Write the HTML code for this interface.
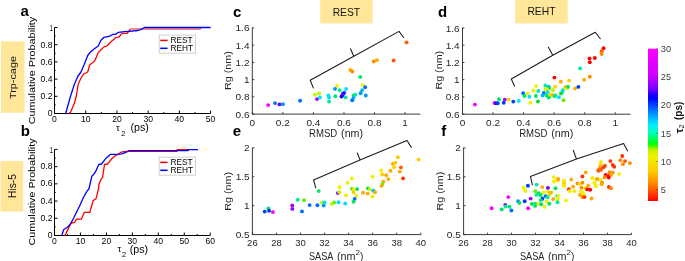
<!DOCTYPE html>
<html><head><meta charset="utf-8"><style>
html,body{margin:0;padding:0;background:#fff;}
svg{display:block;will-change:transform;}
text{font-family:"Liberation Sans", sans-serif;}
</style></head><body>
<svg width="685" height="261" viewBox="0 0 685 261">
<rect x="0" y="0" width="685" height="261" fill="#fff"/>
<rect x="1" y="41.3" width="23.5" height="71.5" fill="#FFE699"/>
<rect x="0.5" y="161" width="22.7" height="50.6" fill="#FFE699"/>
<rect x="320.2" y="0" width="52.3" height="23.4" fill="#FFE699"/>
<rect x="515.2" y="0" width="52.5" height="23.4" fill="#FFE699"/>
<text x="346.4" y="15.5" font-size="10.3" fill="#111" text-anchor="middle">REST</text>
<text x="541.45" y="15.3" font-size="10.3" fill="#111" text-anchor="middle">REHT</text>
<text transform="translate(15.9,77.55) rotate(-90)" font-size="9.8" fill="#111" text-anchor="middle" textLength="43" lengthAdjust="spacingAndGlyphs">Trp-cage</text>
<text transform="translate(15.7,186) rotate(-90)" font-size="10.0" fill="#111" text-anchor="middle" textLength="24" lengthAdjust="spacingAndGlyphs">His-5</text>
<text x="20.4" y="15.8" font-size="15" fill="#000" font-weight="bold">a</text>
<text x="20.8" y="136" font-size="15" fill="#000" font-weight="bold">b</text>
<text x="233" y="16.6" font-size="15" fill="#000" font-weight="bold">c</text>
<text x="438" y="16.5" font-size="15" fill="#000" font-weight="bold">d</text>
<text x="232.8" y="136" font-size="15" fill="#000" font-weight="bold">e</text>
<text x="441.2" y="135.7" font-size="15" fill="#000" font-weight="bold">f</text>
<g stroke="#000" stroke-width="1" fill="none">
<path d="M54.5,27.5 V113.5 H210.6"/>
<path d="M54.50,113.5 v-3"/>
<path d="M70.11,113.5 v-1.5"/>
<path d="M85.72,113.5 v-3"/>
<path d="M101.33,113.5 v-1.5"/>
<path d="M116.94,113.5 v-3"/>
<path d="M132.55,113.5 v-1.5"/>
<path d="M148.16,113.5 v-3"/>
<path d="M163.77,113.5 v-1.5"/>
<path d="M179.38,113.5 v-3"/>
<path d="M194.99,113.5 v-1.5"/>
<path d="M210.60,113.5 v-3"/>
<path d="M54.5,113.50 h3"/>
<path d="M54.5,104.90 h1.2"/>
<path d="M54.5,96.30 h3"/>
<path d="M54.5,87.70 h1.2"/>
<path d="M54.5,79.10 h3"/>
<path d="M54.5,70.50 h1.2"/>
<path d="M54.5,61.90 h3"/>
<path d="M54.5,53.30 h1.2"/>
<path d="M54.5,44.70 h3"/>
<path d="M54.5,36.10 h1.2"/>
<path d="M54.5,27.50 h3"/>
</g>
<text x="54.50" y="122.30" font-size="8.6" fill="#000" text-anchor="middle">0</text>
<text x="85.72" y="122.30" font-size="8.6" fill="#000" text-anchor="middle">10</text>
<text x="116.94" y="122.30" font-size="8.6" fill="#000" text-anchor="middle">20</text>
<text x="148.16" y="122.30" font-size="8.6" fill="#000" text-anchor="middle">30</text>
<text x="179.38" y="122.30" font-size="8.6" fill="#000" text-anchor="middle">40</text>
<text x="210.60" y="122.30" font-size="8.6" fill="#000" text-anchor="middle">50</text>
<text x="52.50" y="116.40" font-size="8.6" fill="#000" text-anchor="end">0</text>
<text x="52.50" y="99.20" font-size="8.6" fill="#000" text-anchor="end">0.2</text>
<text x="52.50" y="82.00" font-size="8.6" fill="#000" text-anchor="end">0.4</text>
<text x="52.50" y="64.80" font-size="8.6" fill="#000" text-anchor="end">0.6</text>
<text x="52.50" y="47.60" font-size="8.6" fill="#000" text-anchor="end">0.8</text>
<text x="52.90" y="31.00" font-size="8.6" fill="#000" text-anchor="end" textLength="3.2" lengthAdjust="spacingAndGlyphs">1</text>
<polyline points="68.6,113.5 70.2,112.9 74.4,103.3 76.5,95.0 78.2,84.2 81.0,78.0 84.0,73.6 86.0,73.0 87.7,72.0 89.6,65.1 94.4,61.3 96.3,57.4 98.2,52.6 101.0,49.8 104.0,46.9 106.8,46.0 111.6,41.2 115.7,37.7 118.6,37.2 122.0,33.4 127.2,33.4 130.6,29.0" fill="none" stroke="#ff0000" stroke-width="1.3" stroke-linejoin="round"/>
<polyline points="130.6,29.0 200,29.0 200.7,27.6" fill="none" stroke="#ef6a62" stroke-width="1.7" stroke-linejoin="round"/>
<polyline points="65.7,113.5 70.0,98.0 74.4,84.2 78.0,76.0 81.0,72.0 84.0,65.0 87.7,55.5 90.5,52.0 94.4,48.8 98.2,46.0 101.0,40.2 104.0,37.3 109.7,36.2 112.9,34.4 115.3,34.4 118.6,32.3 124.4,31.7 129.2,31.3 137.8,30.5 140.7,29.6 144.5,27.5 210.6,27.5" fill="none" stroke="#0000ff" stroke-width="1.3" stroke-linejoin="round"/>
<rect x="159.2" y="35.1" width="36.4" height="18.1" fill="#fff" stroke="#cccccc" stroke-width="0.9"/>
<path d="M160.2,40.4 h7.4" stroke="#ff0000" stroke-width="1.5"/>
<path d="M160.2,48.3 h7.4" stroke="#0000ff" stroke-width="1.5"/>
<text x="170.4" y="43.2" font-size="8.3" fill="#000">REST</text>
<text x="170.4" y="51.1" font-size="8.3" fill="#000">REHT</text>
<g stroke="#000" stroke-width="1" fill="none">
<path d="M54.5,149.4 V235.5 H210.20000000000002"/>
<path d="M54.50,235.5 v-3"/>
<path d="M67.47,235.5 v-1.5"/>
<path d="M80.45,235.5 v-3"/>
<path d="M93.43,235.5 v-1.5"/>
<path d="M106.40,235.5 v-3"/>
<path d="M119.38,235.5 v-1.5"/>
<path d="M132.35,235.5 v-3"/>
<path d="M145.32,235.5 v-1.5"/>
<path d="M158.30,235.5 v-3"/>
<path d="M171.28,235.5 v-1.5"/>
<path d="M184.25,235.5 v-3"/>
<path d="M197.23,235.5 v-1.5"/>
<path d="M210.20,235.5 v-3"/>
<path d="M54.5,235.50 h3"/>
<path d="M54.5,226.89 h1.2"/>
<path d="M54.5,218.28 h3"/>
<path d="M54.5,209.67 h1.2"/>
<path d="M54.5,201.06 h3"/>
<path d="M54.5,192.45 h1.2"/>
<path d="M54.5,183.84 h3"/>
<path d="M54.5,175.23 h1.2"/>
<path d="M54.5,166.62 h3"/>
<path d="M54.5,158.01 h1.2"/>
<path d="M54.5,149.40 h3"/>
</g>
<text x="54.50" y="244.10" font-size="8.6" fill="#000" text-anchor="middle">0</text>
<text x="80.45" y="244.10" font-size="8.6" fill="#000" text-anchor="middle">10</text>
<text x="106.40" y="244.10" font-size="8.6" fill="#000" text-anchor="middle">20</text>
<text x="132.35" y="244.10" font-size="8.6" fill="#000" text-anchor="middle">30</text>
<text x="158.30" y="244.10" font-size="8.6" fill="#000" text-anchor="middle">40</text>
<text x="184.25" y="244.10" font-size="8.6" fill="#000" text-anchor="middle">50</text>
<text x="210.20" y="244.10" font-size="8.6" fill="#000" text-anchor="middle">60</text>
<text x="52.50" y="238.10" font-size="8.6" fill="#000" text-anchor="end">0</text>
<text x="52.50" y="220.88" font-size="8.6" fill="#000" text-anchor="end">0.2</text>
<text x="52.50" y="203.66" font-size="8.6" fill="#000" text-anchor="end">0.4</text>
<text x="52.50" y="186.44" font-size="8.6" fill="#000" text-anchor="end">0.6</text>
<text x="52.50" y="169.22" font-size="8.6" fill="#000" text-anchor="end">0.8</text>
<text x="52.90" y="152.60" font-size="8.6" fill="#000" text-anchor="end" textLength="3.2" lengthAdjust="spacingAndGlyphs">1</text>
<polyline points="64.8,235.5 65.6,234.3 67.7,229.9 70.6,224.0 72.6,222.7 74.5,222.5 76.5,219.2 81.4,219.2 84.3,212.3 89.8,212.3 92.1,204.5 93.1,200.6 96.0,198.7 97.0,194.8 98.9,187.0 98.7,185.0 100.6,180.2 102.6,177.2 104.5,164.5 107.5,164.0 109.4,161.6 112.3,158.3 115.3,155.7 118.2,154.4 120.2,152.8 122.1,151.8 126.0,151.3 176.9,151.3 177.2,149.7 188.5,149.7" fill="none" stroke="#ff0000" stroke-width="1.3" stroke-linejoin="round"/>
<polyline points="61.8,235.5 63.8,229.5 67.7,227.0 69.6,225.0 72.6,220.2 76.5,212.3 79.4,206.5 83.3,197.7 87.2,190.9 88.9,189.0 91.8,176.3 93.8,174.3 95.7,171.4 98.7,164.5 101.6,164.0 104.5,160.2 106.5,157.7 110.4,154.4 116.3,154.4 122.1,153.8 127.0,151.8 129.0,150.7 188.2,150.7 188.5,149.6 198.0,149.6" fill="none" stroke="#0000ff" stroke-width="1.3" stroke-linejoin="round"/>
<rect x="159.2" y="157.1" width="36.4" height="18.1" fill="#fff" stroke="#cccccc" stroke-width="0.9"/>
<path d="M160.2,162.4 h7.4" stroke="#ff0000" stroke-width="1.5"/>
<path d="M160.2,170.29999999999998 h7.4" stroke="#0000ff" stroke-width="1.5"/>
<text x="170.4" y="165.2" font-size="8.3" fill="#000">REST</text>
<text x="170.4" y="173.1" font-size="8.3" fill="#000">REHT</text>
<text transform="translate(34.7,70.55) rotate(-90)" font-size="9.6" fill="#000" text-anchor="middle" textLength="107.6" lengthAdjust="spacingAndGlyphs">Cumulative Probability</text>
<text transform="translate(34.9,191.9) rotate(-90)" font-size="9.6" fill="#000" text-anchor="middle" textLength="107.0" lengthAdjust="spacingAndGlyphs">Cumulative Probability</text>
<text x="116.0" y="131.0" font-size="9.6" fill="#000" font-family=""Liberation Serif", serif">τ</text>
<text x="121.2" y="135.6" font-size="7.4" fill="#000">2</text>
<text x="130.5" y="131.4" font-size="10.3" fill="#000" textLength="18.4" lengthAdjust="spacingAndGlyphs">(ps)</text>
<text x="117.4" y="252.0" font-size="9.6" fill="#000" font-family=""Liberation Serif", serif">τ</text>
<text x="121.9" y="256.6" font-size="7.4" fill="#000">2</text>
<text x="129.7" y="252.8" font-size="10.3" fill="#000" textLength="18.4" lengthAdjust="spacingAndGlyphs">(ps)</text>
<g stroke="#262626" stroke-width="0.9" fill="none">
<path d="M252.30,27.50 V114.10 H420.38"/>
<path d="M252.30,114.10 v-1.9"/>
<path d="M282.86,114.10 v-1.9"/>
<path d="M313.42,114.10 v-1.9"/>
<path d="M343.98,114.10 v-1.9"/>
<path d="M374.54,114.10 v-1.9"/>
<path d="M405.10,114.10 v-1.9"/>
<path d="M252.30,114.10 h1.9"/>
<path d="M252.30,96.86 h1.9"/>
<path d="M252.30,79.62 h1.9"/>
<path d="M252.30,62.38 h1.9"/>
<path d="M252.30,45.14 h1.9"/>
<path d="M252.30,27.90 h1.9"/>
</g>
<text x="252.30" y="125.50" font-size="9.2" fill="#262626" text-anchor="middle" textLength="5.58" lengthAdjust="spacingAndGlyphs">0</text>
<text x="282.86" y="125.50" font-size="9.2" fill="#262626" text-anchor="middle" textLength="13.94" lengthAdjust="spacingAndGlyphs">0.2</text>
<text x="313.42" y="125.50" font-size="9.2" fill="#262626" text-anchor="middle" textLength="13.94" lengthAdjust="spacingAndGlyphs">0.4</text>
<text x="343.98" y="125.50" font-size="9.2" fill="#262626" text-anchor="middle" textLength="13.94" lengthAdjust="spacingAndGlyphs">0.6</text>
<text x="374.54" y="125.50" font-size="9.2" fill="#262626" text-anchor="middle" textLength="13.94" lengthAdjust="spacingAndGlyphs">0.8</text>
<text x="405.10" y="125.50" font-size="9.2" fill="#262626" text-anchor="middle" textLength="5.58" lengthAdjust="spacingAndGlyphs">1</text>
<text x="249.50" y="117.60" font-size="9.2" fill="#262626" text-anchor="end" textLength="13.94" lengthAdjust="spacingAndGlyphs">0.6</text>
<text x="249.50" y="100.36" font-size="9.2" fill="#262626" text-anchor="end" textLength="13.94" lengthAdjust="spacingAndGlyphs">0.8</text>
<text x="249.50" y="83.12" font-size="9.2" fill="#262626" text-anchor="end" textLength="5.58" lengthAdjust="spacingAndGlyphs">1</text>
<text x="249.50" y="65.88" font-size="9.2" fill="#262626" text-anchor="end" textLength="13.94" lengthAdjust="spacingAndGlyphs">1.2</text>
<text x="249.50" y="48.64" font-size="9.2" fill="#262626" text-anchor="end" textLength="13.94" lengthAdjust="spacingAndGlyphs">1.4</text>
<text x="249.50" y="31.40" font-size="9.2" fill="#262626" text-anchor="end" textLength="13.94" lengthAdjust="spacingAndGlyphs">1.6</text>
<text transform="translate(231.2,70.65) rotate(-90)" font-size="9.8" fill="#262626" text-anchor="middle" textLength="38.8" lengthAdjust="spacingAndGlyphs">Rg (nm)</text>
<text x="309.00" y="137.1" font-size="10.0" fill="#262626" textLength="28.2" lengthAdjust="spacingAndGlyphs">RMSD</text>
<text x="341.10" y="137.1" font-size="10.0" fill="#262626" textLength="22.0" lengthAdjust="spacingAndGlyphs">(nm)</text>
<g stroke="#262626" stroke-width="0.9" fill="none">
<path d="M462.50,27.60 V114.20 H630.47"/>
<path d="M462.50,114.20 v-1.9"/>
<path d="M493.04,114.20 v-1.9"/>
<path d="M523.58,114.20 v-1.9"/>
<path d="M554.12,114.20 v-1.9"/>
<path d="M584.66,114.20 v-1.9"/>
<path d="M615.20,114.20 v-1.9"/>
<path d="M462.50,114.20 h1.9"/>
<path d="M462.50,96.96 h1.9"/>
<path d="M462.50,79.72 h1.9"/>
<path d="M462.50,62.48 h1.9"/>
<path d="M462.50,45.24 h1.9"/>
<path d="M462.50,28.00 h1.9"/>
</g>
<text x="462.50" y="125.60" font-size="9.2" fill="#262626" text-anchor="middle" textLength="5.58" lengthAdjust="spacingAndGlyphs">0</text>
<text x="493.04" y="125.60" font-size="9.2" fill="#262626" text-anchor="middle" textLength="13.94" lengthAdjust="spacingAndGlyphs">0.2</text>
<text x="523.58" y="125.60" font-size="9.2" fill="#262626" text-anchor="middle" textLength="13.94" lengthAdjust="spacingAndGlyphs">0.4</text>
<text x="554.12" y="125.60" font-size="9.2" fill="#262626" text-anchor="middle" textLength="13.94" lengthAdjust="spacingAndGlyphs">0.6</text>
<text x="584.66" y="125.60" font-size="9.2" fill="#262626" text-anchor="middle" textLength="13.94" lengthAdjust="spacingAndGlyphs">0.8</text>
<text x="615.20" y="125.60" font-size="9.2" fill="#262626" text-anchor="middle" textLength="5.58" lengthAdjust="spacingAndGlyphs">1</text>
<text x="459.70" y="117.70" font-size="9.2" fill="#262626" text-anchor="end" textLength="13.94" lengthAdjust="spacingAndGlyphs">0.6</text>
<text x="459.70" y="100.46" font-size="9.2" fill="#262626" text-anchor="end" textLength="13.94" lengthAdjust="spacingAndGlyphs">0.8</text>
<text x="459.70" y="83.22" font-size="9.2" fill="#262626" text-anchor="end" textLength="5.58" lengthAdjust="spacingAndGlyphs">1</text>
<text x="459.70" y="65.98" font-size="9.2" fill="#262626" text-anchor="end" textLength="13.94" lengthAdjust="spacingAndGlyphs">1.2</text>
<text x="459.70" y="48.74" font-size="9.2" fill="#262626" text-anchor="end" textLength="13.94" lengthAdjust="spacingAndGlyphs">1.4</text>
<text x="459.70" y="31.50" font-size="9.2" fill="#262626" text-anchor="end" textLength="13.94" lengthAdjust="spacingAndGlyphs">1.6</text>
<text transform="translate(442.09999999999997,70.2) rotate(-90)" font-size="9.8" fill="#262626" text-anchor="middle" textLength="38.8" lengthAdjust="spacingAndGlyphs">Rg (nm)</text>
<text x="519.20" y="137.1" font-size="10.0" fill="#262626" textLength="28.2" lengthAdjust="spacingAndGlyphs">RMSD</text>
<text x="551.30" y="137.1" font-size="10.0" fill="#262626" textLength="22.0" lengthAdjust="spacingAndGlyphs">(nm)</text>
<g stroke="#262626" stroke-width="0.9" fill="none">
<path d="M252.40,147.50 V234.60 H420.82"/>
<path d="M252.40,234.60 v-1.9"/>
<path d="M276.46,234.60 v-1.9"/>
<path d="M300.52,234.60 v-1.9"/>
<path d="M324.58,234.60 v-1.9"/>
<path d="M348.64,234.60 v-1.9"/>
<path d="M372.70,234.60 v-1.9"/>
<path d="M396.76,234.60 v-1.9"/>
<path d="M420.82,234.60 v-1.9"/>
<path d="M252.40,234.60 h1.9"/>
<path d="M252.40,205.70 h1.9"/>
<path d="M252.40,176.80 h1.9"/>
<path d="M252.40,147.90 h1.9"/>
</g>
<text x="252.40" y="246.00" font-size="9.2" fill="#262626" text-anchor="middle" textLength="10.54" lengthAdjust="spacingAndGlyphs">26</text>
<text x="276.46" y="246.00" font-size="9.2" fill="#262626" text-anchor="middle" textLength="10.54" lengthAdjust="spacingAndGlyphs">28</text>
<text x="300.52" y="246.00" font-size="9.2" fill="#262626" text-anchor="middle" textLength="10.54" lengthAdjust="spacingAndGlyphs">30</text>
<text x="324.58" y="246.00" font-size="9.2" fill="#262626" text-anchor="middle" textLength="10.54" lengthAdjust="spacingAndGlyphs">32</text>
<text x="348.64" y="246.00" font-size="9.2" fill="#262626" text-anchor="middle" textLength="10.54" lengthAdjust="spacingAndGlyphs">34</text>
<text x="372.70" y="246.00" font-size="9.2" fill="#262626" text-anchor="middle" textLength="10.54" lengthAdjust="spacingAndGlyphs">36</text>
<text x="396.76" y="246.00" font-size="9.2" fill="#262626" text-anchor="middle" textLength="10.54" lengthAdjust="spacingAndGlyphs">38</text>
<text x="420.82" y="246.00" font-size="9.2" fill="#262626" text-anchor="middle" textLength="10.54" lengthAdjust="spacingAndGlyphs">40</text>
<text x="249.60" y="238.10" font-size="9.2" fill="#262626" text-anchor="end" textLength="13.94" lengthAdjust="spacingAndGlyphs">0.5</text>
<text x="249.60" y="209.20" font-size="9.2" fill="#262626" text-anchor="end" textLength="5.58" lengthAdjust="spacingAndGlyphs">1</text>
<text x="249.60" y="180.30" font-size="9.2" fill="#262626" text-anchor="end" textLength="13.94" lengthAdjust="spacingAndGlyphs">1.5</text>
<text x="249.60" y="151.40" font-size="9.2" fill="#262626" text-anchor="end" textLength="5.58" lengthAdjust="spacingAndGlyphs">2</text>
<text transform="translate(231.1,191.4) rotate(-90)" font-size="9.8" fill="#262626" text-anchor="middle" textLength="38.8" lengthAdjust="spacingAndGlyphs">Rg (nm)</text>
<text x="309.00" y="259.9" font-size="10.0" fill="#262626" textLength="24.4" lengthAdjust="spacingAndGlyphs">SASA</text>
<text x="336.90" y="259.9" font-size="10.0" fill="#262626" textLength="18.6" lengthAdjust="spacingAndGlyphs">(nm</text>
<text x="355.40" y="255.2" font-size="8.1" fill="#262626">2</text>
<text x="360.10" y="259.9" font-size="10.0" fill="#262626">)</text>
<g stroke="#262626" stroke-width="0.9" fill="none">
<path d="M463.60,147.50 V234.60 H631.46"/>
<path d="M463.60,234.60 v-1.9"/>
<path d="M487.58,234.60 v-1.9"/>
<path d="M511.56,234.60 v-1.9"/>
<path d="M535.54,234.60 v-1.9"/>
<path d="M559.52,234.60 v-1.9"/>
<path d="M583.50,234.60 v-1.9"/>
<path d="M607.48,234.60 v-1.9"/>
<path d="M631.46,234.60 v-1.9"/>
<path d="M463.60,234.60 h1.9"/>
<path d="M463.60,205.70 h1.9"/>
<path d="M463.60,176.80 h1.9"/>
<path d="M463.60,147.90 h1.9"/>
</g>
<text x="463.60" y="246.00" font-size="9.2" fill="#262626" text-anchor="middle" textLength="10.54" lengthAdjust="spacingAndGlyphs">26</text>
<text x="487.58" y="246.00" font-size="9.2" fill="#262626" text-anchor="middle" textLength="10.54" lengthAdjust="spacingAndGlyphs">28</text>
<text x="511.56" y="246.00" font-size="9.2" fill="#262626" text-anchor="middle" textLength="10.54" lengthAdjust="spacingAndGlyphs">30</text>
<text x="535.54" y="246.00" font-size="9.2" fill="#262626" text-anchor="middle" textLength="10.54" lengthAdjust="spacingAndGlyphs">32</text>
<text x="559.52" y="246.00" font-size="9.2" fill="#262626" text-anchor="middle" textLength="10.54" lengthAdjust="spacingAndGlyphs">34</text>
<text x="583.50" y="246.00" font-size="9.2" fill="#262626" text-anchor="middle" textLength="10.54" lengthAdjust="spacingAndGlyphs">36</text>
<text x="607.48" y="246.00" font-size="9.2" fill="#262626" text-anchor="middle" textLength="10.54" lengthAdjust="spacingAndGlyphs">38</text>
<text x="631.46" y="246.00" font-size="9.2" fill="#262626" text-anchor="middle" textLength="10.54" lengthAdjust="spacingAndGlyphs">40</text>
<text x="460.80" y="238.10" font-size="9.2" fill="#262626" text-anchor="end" textLength="13.94" lengthAdjust="spacingAndGlyphs">0.5</text>
<text x="460.80" y="209.20" font-size="9.2" fill="#262626" text-anchor="end" textLength="5.58" lengthAdjust="spacingAndGlyphs">1</text>
<text x="460.80" y="180.30" font-size="9.2" fill="#262626" text-anchor="end" textLength="13.94" lengthAdjust="spacingAndGlyphs">1.5</text>
<text x="460.80" y="151.40" font-size="9.2" fill="#262626" text-anchor="end" textLength="5.58" lengthAdjust="spacingAndGlyphs">2</text>
<text transform="translate(442.7,191.15) rotate(-90)" font-size="9.8" fill="#262626" text-anchor="middle" textLength="38.8" lengthAdjust="spacingAndGlyphs">Rg (nm)</text>
<text x="520.00" y="259.9" font-size="10.0" fill="#262626" textLength="24.4" lengthAdjust="spacingAndGlyphs">SASA</text>
<text x="547.90" y="259.9" font-size="10.0" fill="#262626" textLength="18.6" lengthAdjust="spacingAndGlyphs">(nm</text>
<text x="566.40" y="255.2" font-size="8.1" fill="#262626">2</text>
<text x="571.10" y="259.9" font-size="10.0" fill="#262626">)</text>
<path d="M313.3,87.9 L310.2,80.2 L353.8,56.2 M350.5,48.8 L353.8,56.2 L399,31.4 L403.6,37.5" fill="none" stroke="#1a1a1a" stroke-width="1.05" stroke-linejoin="round" stroke-linecap="round"/>
<path d="M514.6,86.2 L511.3,79 L552.8,55.2 M548.4,47.3 L552.8,55.2 L595.3,32.3 L600.3,38.8" fill="none" stroke="#1a1a1a" stroke-width="1.05" stroke-linejoin="round" stroke-linecap="round"/>
<path d="M315.7,187.8 L313.6,180 L360,159.9 M357.3,153 L360,159.9 L407,140.5 L411.4,147.4" fill="none" stroke="#1a1a1a" stroke-width="1.05" stroke-linejoin="round" stroke-linecap="round"/>
<path d="M532.4,184.8 L530.4,176.4 L576.5,159.1 M573.3,150.3 L576.5,159.1 L623.6,143.5 L627.6,150.9" fill="none" stroke="#1a1a1a" stroke-width="1.05" stroke-linejoin="round" stroke-linecap="round"/>
<circle cx="268.2" cy="105.1" r="1.95" fill="rgb(255,0,255)"/>
<circle cx="275" cy="103.1" r="1.95" fill="rgb(0,110,255)"/>
<circle cx="279.5" cy="104.4" r="1.95" fill="rgb(110,0,255)"/>
<circle cx="282.9" cy="104.2" r="1.95" fill="rgb(0,150,255)"/>
<circle cx="300.1" cy="100.7" r="1.95" fill="rgb(0,110,255)"/>
<circle cx="315.0" cy="94.8" r="1.95" fill="rgb(190,245,0)"/>
<circle cx="319.2" cy="93.4" r="1.95" fill="rgb(190,245,0)"/>
<circle cx="317" cy="99.1" r="1.95" fill="rgb(160,0,255)"/>
<circle cx="319.9" cy="97.5" r="1.95" fill="rgb(0,225,255)"/>
<circle cx="328.4" cy="95.5" r="1.95" fill="rgb(0,225,255)"/>
<circle cx="329.1" cy="97.4" r="1.95" fill="rgb(0,225,255)"/>
<circle cx="329" cy="101.5" r="1.95" fill="rgb(0,235,160)"/>
<circle cx="337" cy="85.7" r="1.95" fill="rgb(240,240,0)"/>
<circle cx="335" cy="88.9" r="1.95" fill="rgb(0,150,255)"/>
<circle cx="339.7" cy="90.2" r="1.95" fill="rgb(0,235,160)"/>
<circle cx="335.4" cy="96.3" r="1.95" fill="rgb(0,230,100)"/>
<circle cx="346.1" cy="88.9" r="1.95" fill="rgb(0,225,255)"/>
<circle cx="344.4" cy="92.7" r="1.95" fill="rgb(0,110,255)"/>
<circle cx="343.1" cy="93.8" r="1.95" fill="rgb(30,0,255)"/>
<circle cx="342.5" cy="95.1" r="1.95" fill="rgb(110,0,255)"/>
<circle cx="341.5" cy="96.5" r="1.95" fill="rgb(30,0,255)"/>
<circle cx="345.6" cy="97.5" r="1.95" fill="rgb(0,235,160)"/>
<circle cx="355.4" cy="94.6" r="1.95" fill="rgb(0,225,255)"/>
<circle cx="353.7" cy="95.5" r="1.95" fill="rgb(0,230,100)"/>
<circle cx="353.5" cy="97.7" r="1.95" fill="rgb(0,185,255)"/>
<circle cx="352.2" cy="100.2" r="1.95" fill="rgb(0,110,255)"/>
<circle cx="360.3" cy="77" r="1.95" fill="rgb(0,230,100)"/>
<circle cx="362.9" cy="85.1" r="1.95" fill="rgb(240,240,0)"/>
<circle cx="365.2" cy="87.3" r="1.95" fill="rgb(0,110,255)"/>
<circle cx="362.1" cy="90.2" r="1.95" fill="rgb(0,185,255)"/>
<circle cx="360.6" cy="93.2" r="1.95" fill="rgb(0,150,255)"/>
<circle cx="365.8" cy="95.5" r="1.95" fill="rgb(0,150,255)"/>
<circle cx="406.6" cy="42.4" r="1.95" fill="rgb(255,90,0)"/>
<circle cx="373.8" cy="61.4" r="1.95" fill="rgb(255,140,0)"/>
<circle cx="376.9" cy="60.2" r="1.95" fill="rgb(255,170,0)"/>
<circle cx="393.6" cy="60.5" r="1.95" fill="rgb(255,90,0)"/>
<circle cx="350.4" cy="69.9" r="1.95" fill="rgb(255,170,0)"/>
<circle cx="352.3" cy="71.5" r="1.95" fill="rgb(255,140,0)"/>
<circle cx="474.9" cy="104.6" r="1.95" fill="rgb(255,0,255)"/>
<circle cx="494.5" cy="103" r="1.95" fill="rgb(255,0,255)"/>
<circle cx="496.1" cy="103.2" r="1.95" fill="rgb(30,0,255)"/>
<circle cx="497.7" cy="103.2" r="1.95" fill="rgb(0,60,255)"/>
<circle cx="499" cy="99.2" r="1.95" fill="rgb(0,230,100)"/>
<circle cx="504.8" cy="99.6" r="1.95" fill="rgb(160,0,255)"/>
<circle cx="508.6" cy="99.6" r="1.95" fill="rgb(255,205,0)"/>
<circle cx="503.8" cy="102.7" r="1.95" fill="rgb(0,60,255)"/>
<circle cx="513.3" cy="101.6" r="1.95" fill="rgb(0,60,255)"/>
<circle cx="518.8" cy="100.9" r="1.95" fill="rgb(0,225,255)"/>
<circle cx="523.2" cy="93.2" r="1.95" fill="rgb(0,110,255)"/>
<circle cx="527.5" cy="93.8" r="1.95" fill="rgb(240,240,0)"/>
<circle cx="524.5" cy="96" r="1.95" fill="rgb(0,230,100)"/>
<circle cx="529.4" cy="96.7" r="1.95" fill="rgb(0,225,255)"/>
<circle cx="530.4" cy="102.8" r="1.95" fill="rgb(240,240,0)"/>
<circle cx="536.1" cy="86.1" r="1.95" fill="rgb(240,240,0)"/>
<circle cx="533.4" cy="90.5" r="1.95" fill="rgb(240,240,0)"/>
<circle cx="538.4" cy="91" r="1.95" fill="rgb(0,235,160)"/>
<circle cx="535.8" cy="96" r="1.95" fill="rgb(0,230,100)"/>
<circle cx="538" cy="101.4" r="1.95" fill="rgb(0,225,40)"/>
<circle cx="545.3" cy="85.5" r="1.95" fill="rgb(0,235,160)"/>
<circle cx="548.7" cy="86.6" r="1.95" fill="rgb(0,185,255)"/>
<circle cx="555.2" cy="86.8" r="1.95" fill="rgb(255,215,0)"/>
<circle cx="565.6" cy="87.2" r="1.95" fill="rgb(255,170,0)"/>
<circle cx="567.2" cy="88.2" r="1.95" fill="rgb(240,240,0)"/>
<circle cx="568" cy="86.8" r="1.95" fill="rgb(0,230,100)"/>
<circle cx="575" cy="88.4" r="1.95" fill="rgb(255,170,0)"/>
<circle cx="578.4" cy="86.9" r="1.95" fill="rgb(0,60,255)"/>
<circle cx="545.5" cy="89.3" r="1.95" fill="rgb(190,245,0)"/>
<circle cx="549.2" cy="88.0" r="1.95" fill="rgb(0,230,100)"/>
<circle cx="547.0" cy="89.8" r="1.95" fill="rgb(240,240,0)"/>
<circle cx="553" cy="90.3" r="1.95" fill="rgb(190,245,0)"/>
<circle cx="543.7" cy="93" r="1.95" fill="rgb(0,110,255)"/>
<circle cx="547.7" cy="92.2" r="1.95" fill="rgb(0,225,255)"/>
<circle cx="562.7" cy="90.3" r="1.95" fill="rgb(0,235,160)"/>
<circle cx="562.5" cy="91.9" r="1.95" fill="rgb(0,225,255)"/>
<circle cx="561" cy="93.5" r="1.95" fill="rgb(0,225,40)"/>
<circle cx="542.5" cy="95.5" r="1.95" fill="rgb(0,185,255)"/>
<circle cx="546.6" cy="95.4" r="1.95" fill="rgb(0,230,100)"/>
<circle cx="550" cy="94.6" r="1.95" fill="rgb(240,240,0)"/>
<circle cx="550.9" cy="95.4" r="1.95" fill="rgb(255,205,0)"/>
<circle cx="550.6" cy="96.0" r="1.95" fill="rgb(240,240,0)"/>
<circle cx="553" cy="95.2" r="1.95" fill="rgb(255,170,0)"/>
<circle cx="555.3" cy="95.5" r="1.95" fill="rgb(0,230,100)"/>
<circle cx="554.6" cy="96.2" r="1.95" fill="rgb(0,235,160)"/>
<circle cx="548.7" cy="97.5" r="1.95" fill="rgb(0,230,100)"/>
<circle cx="558.9" cy="97.3" r="1.95" fill="rgb(0,225,255)"/>
<circle cx="563.5" cy="100.3" r="1.95" fill="rgb(100,240,0)"/>
<circle cx="554.4" cy="77.6" r="1.95" fill="rgb(255,0,0)"/>
<circle cx="560.8" cy="81.7" r="1.95" fill="rgb(255,170,0)"/>
<circle cx="569.1" cy="80.6" r="1.95" fill="rgb(255,205,0)"/>
<circle cx="580.1" cy="68.4" r="1.95" fill="rgb(0,235,160)"/>
<circle cx="589.8" cy="76.7" r="1.95" fill="rgb(255,140,0)"/>
<circle cx="584.1" cy="79.8" r="1.95" fill="rgb(255,170,0)"/>
<circle cx="589.5" cy="58.4" r="1.95" fill="rgb(255,0,0)"/>
<circle cx="594.8" cy="58" r="1.95" fill="rgb(255,0,0)"/>
<circle cx="589.8" cy="62.3" r="1.95" fill="rgb(255,0,0)"/>
<circle cx="603.6" cy="48.3" r="1.95" fill="rgb(255,0,0)"/>
<circle cx="601.7" cy="51.3" r="1.95" fill="rgb(255,90,0)"/>
<circle cx="601.7" cy="54.1" r="1.95" fill="rgb(255,140,0)"/>
<circle cx="264.7" cy="211.6" r="1.95" fill="rgb(0,60,255)"/>
<circle cx="268.4" cy="208.5" r="1.95" fill="rgb(0,230,100)"/>
<circle cx="269.1" cy="210.8" r="1.95" fill="rgb(0,60,255)"/>
<circle cx="272.9" cy="212.1" r="1.95" fill="rgb(255,0,255)"/>
<circle cx="292.3" cy="205.5" r="1.95" fill="rgb(160,0,255)"/>
<circle cx="292.3" cy="208.9" r="1.95" fill="rgb(160,0,255)"/>
<circle cx="297.7" cy="199.8" r="1.95" fill="rgb(0,235,160)"/>
<circle cx="304" cy="200.2" r="1.95" fill="rgb(100,240,0)"/>
<circle cx="309.6" cy="205.1" r="1.95" fill="rgb(0,110,255)"/>
<circle cx="302" cy="211.4" r="1.95" fill="rgb(0,110,255)"/>
<circle cx="318.7" cy="191.1" r="1.95" fill="rgb(0,230,100)"/>
<circle cx="317.4" cy="205.2" r="1.95" fill="rgb(0,110,255)"/>
<circle cx="322.1" cy="202.5" r="1.95" fill="rgb(190,245,0)"/>
<circle cx="324.5" cy="202.5" r="1.95" fill="rgb(0,225,255)"/>
<circle cx="323.7" cy="205.6" r="1.95" fill="rgb(0,150,255)"/>
<circle cx="331.7" cy="203.9" r="1.95" fill="rgb(190,245,0)"/>
<circle cx="334.2" cy="202.5" r="1.95" fill="rgb(100,240,0)"/>
<circle cx="338.5" cy="202.2" r="1.95" fill="rgb(0,225,255)"/>
<circle cx="345.2" cy="203.5" r="1.95" fill="rgb(0,225,255)"/>
<circle cx="339.5" cy="187.3" r="1.95" fill="rgb(240,240,0)"/>
<circle cx="337.9" cy="193.1" r="1.95" fill="rgb(160,0,255)"/>
<circle cx="339.5" cy="192.2" r="1.95" fill="rgb(190,245,0)"/>
<circle cx="346" cy="195.4" r="1.95" fill="rgb(240,240,0)"/>
<circle cx="347.6" cy="182.8" r="1.95" fill="rgb(240,240,0)"/>
<circle cx="351.9" cy="178.4" r="1.95" fill="rgb(240,240,0)"/>
<circle cx="351.9" cy="188.8" r="1.95" fill="rgb(100,240,0)"/>
<circle cx="354" cy="189.1" r="1.95" fill="rgb(240,240,0)"/>
<circle cx="357.2" cy="189.1" r="1.95" fill="rgb(0,230,100)"/>
<circle cx="353.6" cy="192.2" r="1.95" fill="rgb(255,205,0)"/>
<circle cx="356.3" cy="195.8" r="1.95" fill="rgb(240,240,0)"/>
<circle cx="354.6" cy="198.9" r="1.95" fill="rgb(0,110,255)"/>
<circle cx="353.6" cy="201.8" r="1.95" fill="rgb(0,230,100)"/>
<circle cx="363" cy="192.7" r="1.95" fill="rgb(255,170,0)"/>
<circle cx="367.7" cy="193.6" r="1.95" fill="rgb(255,170,0)"/>
<circle cx="368" cy="188.4" r="1.95" fill="rgb(0,225,40)"/>
<circle cx="418.6" cy="159.6" r="1.95" fill="rgb(255,205,0)"/>
<circle cx="397.8" cy="157.2" r="1.95" fill="rgb(255,205,0)"/>
<circle cx="393" cy="163.8" r="1.95" fill="rgb(255,170,0)"/>
<circle cx="395.4" cy="162.8" r="1.95" fill="rgb(255,205,0)"/>
<circle cx="394.1" cy="167.3" r="1.95" fill="rgb(255,205,0)"/>
<circle cx="400.9" cy="167.4" r="1.95" fill="rgb(255,90,0)"/>
<circle cx="399.8" cy="171.6" r="1.95" fill="rgb(255,170,0)"/>
<circle cx="403.1" cy="178.4" r="1.95" fill="rgb(255,50,0)"/>
<circle cx="390.5" cy="170.8" r="1.95" fill="rgb(255,170,0)"/>
<circle cx="381.2" cy="170.5" r="1.95" fill="rgb(240,240,0)"/>
<circle cx="382.4" cy="174.5" r="1.95" fill="rgb(255,205,0)"/>
<circle cx="386.3" cy="175.3" r="1.95" fill="rgb(255,170,0)"/>
<circle cx="388.4" cy="179.1" r="1.95" fill="rgb(255,170,0)"/>
<circle cx="372.5" cy="176.8" r="1.95" fill="rgb(240,240,0)"/>
<circle cx="383.4" cy="181.6" r="1.95" fill="rgb(255,170,0)"/>
<circle cx="382.4" cy="184.1" r="1.95" fill="rgb(100,240,0)"/>
<circle cx="381.5" cy="185.9" r="1.95" fill="rgb(255,170,0)"/>
<circle cx="369.6" cy="189.3" r="1.95" fill="rgb(190,245,0)"/>
<circle cx="373.4" cy="190.7" r="1.95" fill="rgb(0,185,255)"/>
<circle cx="375" cy="192.2" r="1.95" fill="rgb(255,170,0)"/>
<circle cx="372.5" cy="196.6" r="1.95" fill="rgb(240,240,0)"/>
<circle cx="491.7" cy="208.2" r="1.95" fill="rgb(255,0,255)"/>
<circle cx="501.7" cy="209.5" r="1.95" fill="rgb(0,230,100)"/>
<circle cx="505.3" cy="205.0" r="1.95" fill="rgb(160,0,255)"/>
<circle cx="505.7" cy="206.6" r="1.95" fill="rgb(0,235,160)"/>
<circle cx="509.4" cy="206.7" r="1.95" fill="rgb(0,230,100)"/>
<circle cx="511.4" cy="210.5" r="1.95" fill="rgb(0,110,255)"/>
<circle cx="508.3" cy="197.1" r="1.95" fill="rgb(255,0,255)"/>
<circle cx="518.1" cy="201.3" r="1.95" fill="rgb(0,150,255)"/>
<circle cx="519.3" cy="203" r="1.95" fill="rgb(0,230,100)"/>
<circle cx="524.7" cy="201.3" r="1.95" fill="rgb(0,60,255)"/>
<circle cx="530.6" cy="198.6" r="1.95" fill="rgb(160,0,255)"/>
<circle cx="528.1" cy="208.2" r="1.95" fill="rgb(255,0,255)"/>
<circle cx="525.2" cy="190.9" r="1.95" fill="rgb(240,240,0)"/>
<circle cx="523.6" cy="187.7" r="1.95" fill="rgb(240,240,0)"/>
<circle cx="527.9" cy="185.8" r="1.95" fill="rgb(0,60,255)"/>
<circle cx="536.7" cy="184.6" r="1.95" fill="rgb(0,235,160)"/>
<circle cx="542.3" cy="187.1" r="1.95" fill="rgb(255,170,0)"/>
<circle cx="547.9" cy="187.9" r="1.95" fill="rgb(110,0,255)"/>
<circle cx="555.5" cy="188.3" r="1.95" fill="rgb(0,230,100)"/>
<circle cx="554.2" cy="181.4" r="1.95" fill="rgb(240,240,0)"/>
<circle cx="557.8" cy="180.6" r="1.95" fill="rgb(240,240,0)"/>
<circle cx="563.7" cy="182.0" r="1.95" fill="rgb(240,240,0)"/>
<circle cx="553.9" cy="177.1" r="1.95" fill="rgb(240,240,0)"/>
<circle cx="557.9" cy="178.9" r="1.95" fill="rgb(255,170,0)"/>
<circle cx="554.1" cy="181.5" r="1.95" fill="rgb(240,240,0)"/>
<circle cx="563.9" cy="185.2" r="1.95" fill="rgb(240,240,0)"/>
<circle cx="535.4" cy="191.2" r="1.95" fill="rgb(100,240,0)"/>
<circle cx="538.7" cy="193.3" r="1.95" fill="rgb(0,230,100)"/>
<circle cx="540.4" cy="195.0" r="1.95" fill="rgb(0,230,100)"/>
<circle cx="536.5" cy="194.9" r="1.95" fill="rgb(0,235,160)"/>
<circle cx="543.4" cy="192.5" r="1.95" fill="rgb(240,240,0)"/>
<circle cx="547.5" cy="191.4" r="1.95" fill="rgb(240,240,0)"/>
<circle cx="551.4" cy="192.5" r="1.95" fill="rgb(190,245,0)"/>
<circle cx="550.1" cy="192.8" r="1.95" fill="rgb(255,170,0)"/>
<circle cx="549.5" cy="194.6" r="1.95" fill="rgb(255,205,0)"/>
<circle cx="545.6" cy="196.2" r="1.95" fill="rgb(0,110,255)"/>
<circle cx="547.6" cy="197.2" r="1.95" fill="rgb(0,235,160)"/>
<circle cx="542.4" cy="198.8" r="1.95" fill="rgb(0,60,255)"/>
<circle cx="540.7" cy="200.1" r="1.95" fill="rgb(0,230,100)"/>
<circle cx="540.6" cy="195.1" r="1.95" fill="rgb(0,230,100)"/>
<circle cx="553.3" cy="199.0" r="1.95" fill="rgb(255,170,0)"/>
<circle cx="557.2" cy="196.0" r="1.95" fill="rgb(0,225,255)"/>
<circle cx="558.5" cy="195.7" r="1.95" fill="rgb(240,240,0)"/>
<circle cx="557.7" cy="199.2" r="1.95" fill="rgb(240,240,0)"/>
<circle cx="557.5" cy="202.2" r="1.95" fill="rgb(0,235,160)"/>
<circle cx="546.5" cy="201.5" r="1.95" fill="rgb(240,240,0)"/>
<circle cx="549.3" cy="203.8" r="1.95" fill="rgb(0,230,100)"/>
<circle cx="531.9" cy="203.9" r="1.95" fill="rgb(0,225,40)"/>
<circle cx="535.1" cy="203.6" r="1.95" fill="rgb(0,235,160)"/>
<circle cx="535.1" cy="205.9" r="1.95" fill="rgb(0,230,100)"/>
<circle cx="538.6" cy="203.6" r="1.95" fill="rgb(240,240,0)"/>
<circle cx="541.2" cy="204.3" r="1.95" fill="rgb(0,230,100)"/>
<circle cx="544.6" cy="206.8" r="1.95" fill="rgb(240,240,0)"/>
<circle cx="565.9" cy="200.5" r="1.95" fill="rgb(240,240,0)"/>
<circle cx="585.8" cy="172.4" r="1.95" fill="rgb(255,170,0)"/>
<circle cx="582.4" cy="176.4" r="1.95" fill="rgb(255,50,0)"/>
<circle cx="598.5" cy="170.7" r="1.95" fill="rgb(255,90,0)"/>
<circle cx="571.3" cy="179.6" r="1.95" fill="rgb(255,170,0)"/>
<circle cx="564.1" cy="180.7" r="1.95" fill="rgb(240,240,0)"/>
<circle cx="558.3" cy="179.1" r="1.95" fill="rgb(255,170,0)"/>
<circle cx="564.1" cy="183.4" r="1.95" fill="rgb(255,205,0)"/>
<circle cx="564.1" cy="186.1" r="1.95" fill="rgb(240,240,0)"/>
<circle cx="592.5" cy="178.3" r="1.95" fill="rgb(240,240,0)"/>
<circle cx="597.2" cy="179.1" r="1.95" fill="rgb(255,140,0)"/>
<circle cx="594.5" cy="183.1" r="1.95" fill="rgb(240,240,0)"/>
<circle cx="595.8" cy="186.1" r="1.95" fill="rgb(240,240,0)"/>
<circle cx="577.5" cy="183.4" r="1.95" fill="rgb(255,140,0)"/>
<circle cx="579.8" cy="184.1" r="1.95" fill="rgb(240,240,0)"/>
<circle cx="582.4" cy="182.7" r="1.95" fill="rgb(255,140,0)"/>
<circle cx="573.1" cy="186.7" r="1.95" fill="rgb(255,170,0)"/>
<circle cx="581.5" cy="187.8" r="1.95" fill="rgb(255,140,0)"/>
<circle cx="585.5" cy="188.1" r="1.95" fill="rgb(255,205,0)"/>
<circle cx="588.2" cy="185.8" r="1.95" fill="rgb(255,170,0)"/>
<circle cx="587.2" cy="189.4" r="1.95" fill="rgb(255,0,0)"/>
<circle cx="590.2" cy="189.7" r="1.95" fill="rgb(255,0,0)"/>
<circle cx="568.9" cy="189.2" r="1.95" fill="rgb(255,50,0)"/>
<circle cx="569.6" cy="191.3" r="1.95" fill="rgb(240,240,0)"/>
<circle cx="574.4" cy="191.1" r="1.95" fill="rgb(240,240,0)"/>
<circle cx="581" cy="191.3" r="1.95" fill="rgb(240,240,0)"/>
<circle cx="582.8" cy="192.8" r="1.95" fill="rgb(240,240,0)"/>
<circle cx="583.8" cy="194.8" r="1.95" fill="rgb(240,240,0)"/>
<circle cx="580" cy="195.0" r="1.95" fill="rgb(255,170,0)"/>
<circle cx="582.4" cy="197.0" r="1.95" fill="rgb(255,140,0)"/>
<circle cx="584.6" cy="197.1" r="1.95" fill="rgb(255,50,0)"/>
<circle cx="591.5" cy="198.5" r="1.95" fill="rgb(255,170,0)"/>
<circle cx="596.1" cy="186.1" r="1.95" fill="rgb(240,240,0)"/>
<circle cx="622.2" cy="156" r="1.95" fill="rgb(255,50,0)"/>
<circle cx="620.4" cy="160.3" r="1.95" fill="rgb(255,140,0)"/>
<circle cx="625" cy="161.1" r="1.95" fill="rgb(255,90,0)"/>
<circle cx="623" cy="164.2" r="1.95" fill="rgb(255,140,0)"/>
<circle cx="629.9" cy="163.1" r="1.95" fill="rgb(255,140,0)"/>
<circle cx="610.4" cy="161.1" r="1.95" fill="rgb(255,50,0)"/>
<circle cx="601" cy="161.9" r="1.95" fill="rgb(240,240,0)"/>
<circle cx="600.4" cy="164.9" r="1.95" fill="rgb(255,205,0)"/>
<circle cx="605" cy="165.7" r="1.95" fill="rgb(255,90,0)"/>
<circle cx="603.5" cy="167.2" r="1.95" fill="rgb(255,50,0)"/>
<circle cx="600" cy="168" r="1.95" fill="rgb(255,140,0)"/>
<circle cx="598.4" cy="170.3" r="1.95" fill="rgb(255,90,0)"/>
<circle cx="601" cy="169.8" r="1.95" fill="rgb(255,90,0)"/>
<circle cx="612.7" cy="164.9" r="1.95" fill="rgb(255,50,0)"/>
<circle cx="614.2" cy="166.8" r="1.95" fill="rgb(255,50,0)"/>
<circle cx="619.1" cy="174.1" r="1.95" fill="rgb(240,240,0)"/>
<circle cx="609.6" cy="172.3" r="1.95" fill="rgb(255,140,0)"/>
<circle cx="612.7" cy="172.6" r="1.95" fill="rgb(255,140,0)"/>
<circle cx="611.2" cy="174.9" r="1.95" fill="rgb(255,170,0)"/>
<circle cx="605.6" cy="174.9" r="1.95" fill="rgb(255,0,0)"/>
<circle cx="608.1" cy="175.7" r="1.95" fill="rgb(255,50,0)"/>
<circle cx="608.7" cy="177.5" r="1.95" fill="rgb(255,0,0)"/>
<circle cx="604.6" cy="177.2" r="1.95" fill="rgb(255,140,0)"/>
<circle cx="592.3" cy="178" r="1.95" fill="rgb(240,240,0)"/>
<circle cx="596.9" cy="179" r="1.95" fill="rgb(255,170,0)"/>
<circle cx="600.7" cy="180" r="1.95" fill="rgb(240,240,0)"/>
<circle cx="602" cy="182.6" r="1.95" fill="rgb(255,140,0)"/>
<circle cx="601.7" cy="184.3" r="1.95" fill="rgb(255,170,0)"/>
<circle cx="594.6" cy="182.6" r="1.95" fill="rgb(240,240,0)"/>
<circle cx="608.9" cy="187" r="1.95" fill="rgb(255,50,0)"/>
<circle cx="611.1" cy="188.2" r="1.95" fill="rgb(255,140,0)"/>
<defs><linearGradient id="cb" x1="0" y1="0" x2="0" y2="1">
<stop offset="0.0000" stop-color="rgb(255,0,255)"/>
<stop offset="0.1852" stop-color="rgb(200,0,255)"/>
<stop offset="0.2704" stop-color="rgb(110,0,255)"/>
<stop offset="0.2963" stop-color="rgb(40,0,255)"/>
<stop offset="0.3259" stop-color="rgb(0,0,255)"/>
<stop offset="0.3778" stop-color="rgb(0,80,255)"/>
<stop offset="0.4444" stop-color="rgb(0,170,255)"/>
<stop offset="0.5000" stop-color="rgb(0,240,255)"/>
<stop offset="0.5556" stop-color="rgb(0,255,180)"/>
<stop offset="0.6259" stop-color="rgb(0,255,0)"/>
<stop offset="0.6667" stop-color="rgb(200,240,0)"/>
<stop offset="0.7111" stop-color="rgb(240,240,0)"/>
<stop offset="0.8074" stop-color="rgb(255,200,0)"/>
<stop offset="0.8704" stop-color="rgb(255,150,0)"/>
<stop offset="0.9259" stop-color="rgb(255,90,0)"/>
<stop offset="1.0000" stop-color="rgb(255,0,0)"/>
</linearGradient></defs>
<rect x="648" y="48.7" width="10" height="152.3" fill="url(#cb)"/>
<path d="M656.2,189.72 h1.8" stroke="#000" stroke-opacity="0.45" stroke-width="0.8"/>
<text x="660.8" y="193.02" font-size="9.2" fill="#404040">5</text>
<path d="M656.2,161.51 h1.8" stroke="#000" stroke-opacity="0.45" stroke-width="0.8"/>
<text x="660.8" y="164.81" font-size="9.2" fill="#404040">10</text>
<path d="M656.2,133.31 h1.8" stroke="#000" stroke-opacity="0.45" stroke-width="0.8"/>
<text x="660.8" y="136.61" font-size="9.2" fill="#404040">15</text>
<path d="M656.2,105.11 h1.8" stroke="#000" stroke-opacity="0.45" stroke-width="0.8"/>
<text x="660.8" y="108.41" font-size="9.2" fill="#404040">20</text>
<path d="M656.2,76.90 h1.8" stroke="#000" stroke-opacity="0.45" stroke-width="0.8"/>
<text x="660.8" y="80.20" font-size="9.2" fill="#404040">25</text>
<path d="M656.2,48.70 h1.8" stroke="#000" stroke-opacity="0.45" stroke-width="0.8"/>
<text x="660.8" y="52.00" font-size="9.2" fill="#404040">30</text>
<text transform="translate(682.6,133.2) rotate(-90)" font-size="10.8" fill="#111" font-weight="bold" font-family=""Liberation Serif", serif">τ</text>
<text transform="translate(684.4,128.4) rotate(-90)" font-size="7.4" fill="#111">2</text>
<text transform="translate(682.4,120.1) rotate(-90)" font-size="10.6" fill="#111" font-weight="bold" textLength="18.6" lengthAdjust="spacingAndGlyphs">(ps)</text>
</svg></body></html>
